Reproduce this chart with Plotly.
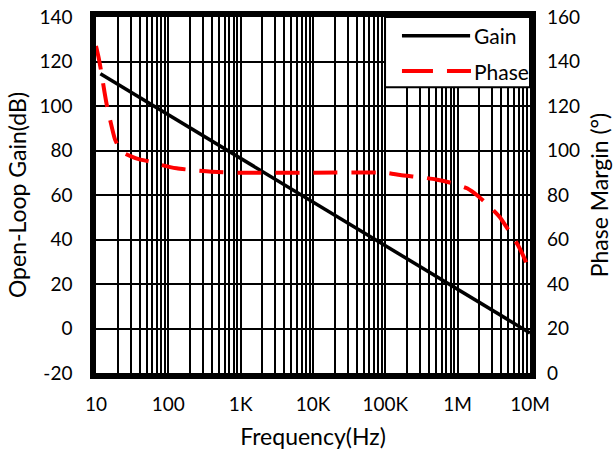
import plotly.graph_objects as go

# Data
gain_freq = [11.5, 1e7]
gain_db = [114.5, -2]

phase_freq = [10, 11, 12, 13, 14, 15.6, 18.3, 21, 24, 30, 40, 56, 80, 130, 250, 400, 1000,
              10000, 100000, 160000, 300000, 500000, 800000, 1.35e6, 2e6, 2.8e6, 3.9e6,
              5.2e6, 6.8e6, 8.5e6, 1e7]
phase_deg = [147, 141, 134, 127, 121, 114, 105, 101, 99, 97.5, 96, 95, 93.5, 92, 91, 90.5, 90,
             90, 90, 89, 88, 87, 85.5, 83, 79, 74.6, 69.7, 63.5, 57.5, 51, 45]

x_tickvals = [10, 100, 1e3, 1e4, 1e5, 1e6, 1e7]
x_ticktext = ["10", "100", "1K", "10K", "100K", "1M", "10M"]
gain_tickvals = [-20, 0, 20, 40, 60, 80, 100, 120, 140]
gain_ticktext = ["-20", "0", "20", "40", "60", "80", "100", "120", "140"]
phase_tickvals = [0, 20, 40, 60, 80, 100, 120, 140, 160]
phase_ticktext = ["0", "20", "40", "60", "80", "100", "120", "140", "160"]

FONT = "Lato"
TICK = 19
TITLE = 23
LEG = 21

fig = go.Figure()
fig.add_trace(go.Scatter(x=gain_freq, y=gain_db, mode="lines", name="Gain",
                         line=dict(color="black", width=3.5), yaxis="y"))
fig.add_trace(go.Scatter(x=phase_freq, y=phase_deg, mode="lines", name="Phase",
                         line=dict(color="#ff0000", width=4, dash="24px,14px", shape="spline",
                                   smoothing=0.6),
                         yaxis="y2"))

fig.update_layout(
    width=616, height=453,
    margin=dict(l=96, r=86, t=17, b=80, autoexpand=False),
    paper_bgcolor="white", plot_bgcolor="white",
    font=dict(family=FONT, size=TICK, color="black"),
    showlegend=False,
    xaxis=dict(type="log", range=[1, 7], tickvals=x_tickvals, ticktext=x_ticktext,
               showgrid=True, gridcolor="black", gridwidth=2,
               minor=dict(dtick="D1", showgrid=True, gridcolor="black", gridwidth=1.7, ticks=""),
               showline=True, linecolor="black", linewidth=5.5, mirror=True,
               ticks="", zeroline=False, automargin=False, ticklabelstandoff=9,
               title=dict(text="Frequency(Hz)", font=dict(size=TITLE), standoff=17),
               tickfont=dict(size=TICK)),
    yaxis=dict(range=[-20, 140], tickvals=gain_tickvals, ticktext=gain_ticktext,
               showgrid=True, gridcolor="black", gridwidth=2,
               showline=True, linecolor="black", linewidth=5.5, mirror=True,
               ticks="", zeroline=False, automargin=False, ticklabelstandoff=14,
               title=dict(text="Open-Loop Gain(dB)", font=dict(size=TITLE), standoff=8),
               tickfont=dict(size=TICK)),
    yaxis2=dict(range=[0, 160], tickvals=phase_tickvals, ticktext=phase_ticktext,
                overlaying="y", side="right", showgrid=False,
                ticks="", zeroline=False, showline=False, automargin=False,
                ticklabelstandoff=16,
                title=dict(text="Phase Margin (°)", font=dict(size=TITLE), standoff=12),
                tickfont=dict(size=TICK)),
)

# Custom legend box
fig.add_shape(type="rect", xref="paper", yref="paper", x0=0.666, x1=1.0, y0=0.803, y1=1.0,
              line=dict(color="black", width=2), fillcolor="white", layer="above")
fig.add_shape(type="line", xref="paper", yref="paper", x0=0.705, x1=0.862, y0=0.947, y1=0.947,
              line=dict(color="black", width=3.5), layer="above")
fig.add_shape(type="line", xref="paper", yref="paper", x0=0.705, x1=0.864, y0=0.848, y1=0.848,
              line=dict(color="#ff0000", width=4, dash="31px,14px"), layer="above")
fig.add_annotation(xref="paper", yref="paper", x=0.866, y=0.947, text="Gain", showarrow=False,
                   xanchor="left", yanchor="middle", font=dict(size=LEG, family=FONT))
fig.add_annotation(xref="paper", yref="paper", x=0.866, y=0.848, text="Phase", showarrow=False,
                   xanchor="left", yanchor="middle", font=dict(size=LEG, family=FONT))

fig.write_html("out.html", config={"displayModeBar": False},
               post_script="document.body.style.margin='0';")
